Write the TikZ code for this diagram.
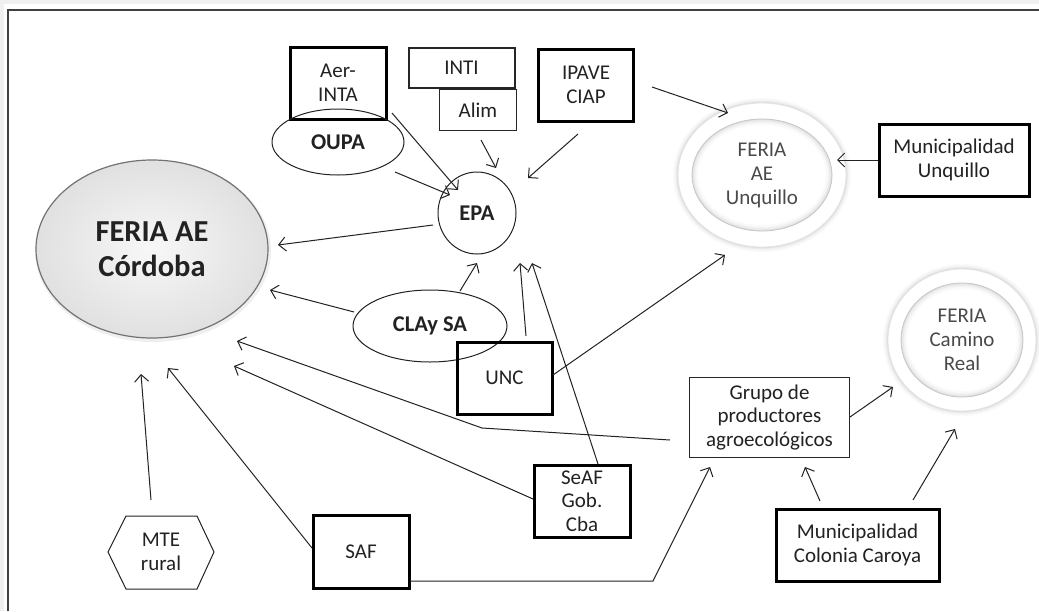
\documentclass[tikz,border=0pt]{standalone}
\usepackage{fontspec}
\setmainfont{Carlito}
\usetikzlibrary{arrows.meta,shapes.geometric,calc}
\definecolor{ink}{HTML}{222222}
\definecolor{txtgray}{HTML}{4A4A4A}
\begin{document}
\begin{tikzpicture}[x=1pt,y=-1pt,
  txt/.style={font=\fontsize{21}{23.5}\selectfont, text=ink, align=center},
  thickbox/.style={txt, rectangle, draw=black, line width=3pt, fill=white, inner sep=0pt},
  thinbox/.style={txt, rectangle, draw=black!85, line width=1.2pt, fill=white, inner sep=0pt},
  oval/.style={ellipse, draw=ink, line width=1pt, inner sep=0pt, text=ink,
     font=\fontsize{22.5}{25}\selectfont\bfseries},
  ringtxt/.style={ellipse, inner sep=0pt, text=txtgray, align=center,
     font=\fontsize{21}{24}\selectfont},
  conn/.style={draw=ink, line width=1pt, -{Straight Barb[length=7pt,width=14pt]}},
]
\useasboundingbox (0,0) rectangle (1039,611);
\fill[white] (0,0) rectangle (1039,611);
\fill[gray!12] (0,0) rectangle (1039,4);
\fill[gray!12] (0,0) rectangle (4,611);
\draw[line width=2pt, black!75] (8,611) -- (8,10) -- (1039,10);

% rings (FERIA AE Unquillo, FERIA Camino Real)
\foreach \cx/\cy/\rx/\ry/\ix/\iy in {762/175/84/72/70/56, 962/340/74/71/61/57}{
  \foreach \w/\o in {10/0.04,7/0.05,4/0.07,2/0.10}
    \draw[gray, opacity=\o, line width=\w pt] (\cx,\cy) ellipse [x radius=\rx pt, y radius=\ry pt];
  \fill[white] (\cx,\cy) ellipse [x radius=\rx pt, y radius=\ry pt];
  \draw[gray!22, line width=0.8pt] (\cx,\cy) ellipse [x radius=\rx pt, y radius=\ry pt];
  \begin{scope}
    \clip (\cx,\cy) ellipse [x radius=\ix pt, y radius=\iy pt];
    \foreach \w/\o in {12/0.04,8/0.05,5/0.07,2/0.10}
      \draw[gray, opacity=\o, line width=\w pt] (\cx,\cy) ellipse [x radius=\ix pt, y radius=\iy pt];
  \end{scope}
  \draw[gray!45, line width=0.8pt] (\cx,\cy) ellipse [x radius=\ix pt, y radius=\iy pt];
}
\node[ringtxt, minimum width=168, minimum height=144] (unq) at (762,175) {FERIA\\AE\\Unquillo};
\node[ringtxt, minimum width=148, minimum height=142] (camino) at (962,340) {FERIA\\Camino\\Real};

% FERIA AE Cordoba
\fill[gray, opacity=0.12] (153,251) ellipse [x radius=118pt, y radius=91pt];
\node[ellipse, minimum width=232, minimum height=178, inner sep=0pt,
  inner color=gray!6, outer color=gray!24, draw=black!55, line width=1.2pt,
  text=ink, align=center, font=\fontsize{30.5}{35}\selectfont\bfseries]
  (cordoba) at (152,249) {FERIA AE\\Córdoba};

% boxes
\node[thickbox, minimum width=96, minimum height=72] (aer) at (338,83) {Aer-\\INTA};
\node[oval, minimum width=132, minimum height=66] (oupa) at (338,142) {OUPA};
\node[thinbox, line width=2pt, minimum width=106, minimum height=40] (inti) at (461.5,68) {INTI};
\node[thinbox, minimum width=77, minimum height=41] (alim) at (478,110) {Alim};
\node[thickbox, minimum width=95, minimum height=72] (ipave) at (586,85) {IPAVE\\CIAP};
\node[oval, fill=white, minimum width=78, minimum height=82] (epa) at (477,213) {EPA};
\node[thickbox, minimum width=150, minimum height=72] (munu) at (954,160) {Municipalidad\\Unquillo};
\node[oval, fill=white, minimum width=154, minimum height=72] (clay) at (430,326) {CLAy SA};
\node[thickbox, fill=none, minimum width=95, minimum height=72] (unc) at (504.5,378) {UNC};
\node[thickbox, minimum width=96, minimum height=72] (seaf) at (582,501) {SeAF\\Gob.\\Cba};
\node[thickbox, minimum width=96, minimum height=73] (saf) at (361,552) {SAF};
\node[txt] (mte) at (161,552) {MTE\\rural};
\draw[line width=1pt, ink] ($(mte)+(-53,0)$) -- ($(mte)+(-35,-36)$) -- ($(mte)+(36,-36)$)
  -- ($(mte)+(53,0)$) -- ($(mte)+(36,37)$) -- ($(mte)+(-35,37)$) -- cycle;
\node[thinbox, minimum width=160, minimum height=80] (grupo) at (769.5,417.5) {Grupo de\\productores\\agroecológicos};
\node[thickbox, minimum width=163, minimum height=72] (caroya) at (857.5,545) {Municipalidad\\Colonia Caroya};

\coordinate (bend1) at (482,428);
\coordinate (bend2) at (653,581);

% connectors
\draw[conn] ($(aer)+(54,30)$) -- ($(epa)+(-19,-23)$);
\draw[conn] ($(oupa)+(57,30)$) -- ($(epa)+(-27,-18)$);
\draw[conn] ($(alim)+(3,30)$) -- ($(epa)+(19,-45)$);
\draw[conn] ($(ipave)+(-8,49)$) -- ($(epa)+(51,-35)$);
\draw[conn] ($(ipave)+(66,2)$) -- ($(unq)+(-34,-62)$);
\draw[conn] ($(munu)+(-76,0)$) -- ($(unq)+(75,-15)$);
\draw[conn] ($(epa)+(-44,12)$) -- ($(cordoba)+(126,-4)$);
\draw[conn] ($(clay)+(30,-35)$) -- ($(epa)+(0,50)$);
\draw[conn] ($(clay)+(-76,-14)$) -- ($(cordoba)+(118,41)$);
\draw[conn] ($(unc)+(21.5,-42)$) -- ($(epa)+(43,50)$);
\draw[conn] ($(seaf)+(16,-37)$) -- ($(epa)+(55,50)$);
\draw[conn] ($(unc)+(48.5,-3)$) -- ($(unq)+(-37,80)$);
\draw[conn] ($(grupo)+(-99.5,22.5)$) -- (bend1) -- ($(cordoba)+(85,92)$);
\draw[conn] ($(seaf)+(-49,-2)$) -- ($(cordoba)+(82,117)$);
\draw[conn] ($(saf)+(-49,-4)$) -- ($(cordoba)+(16,119)$);
\draw[conn] ($(mte)+(-10,-52)$) -- ($(cordoba)+(-11,125)$);
\draw[conn] ($(saf)+(49,29)$) -- (bend2) -- ($(grupo)+(-59.5,49.5)$);
\draw[conn] ($(caroya)+(-37.5,-44)$) -- ($(grupo)+(35.5,49.5)$);
\draw[conn] ($(caroya)+(55.5,-45)$) -- ($(camino)+(-7,89)$);
\draw[conn] ($(grupo)+(80.5,-0.5)$) -- ($(camino)+(-69,47)$);
\end{tikzpicture}
\end{document}
